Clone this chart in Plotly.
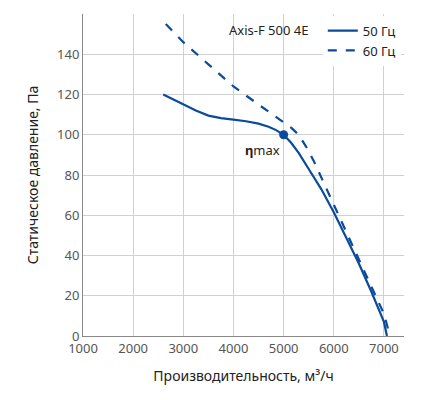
import plotly.graph_objects as go

x50 = [2600, 3000, 3250, 3500, 3750, 4000, 4250, 4500, 4700, 4850, 5000, 5150, 5300, 5500, 5750, 6000, 6250, 6500, 6750, 7000, 7060]
y50 = [120, 115, 112, 109.5, 108.3, 107.5, 106.7, 105.5, 104, 102.3, 100, 96, 91, 83, 73, 61.5, 49, 36, 22, 7, 0]
x60 = [2650, 3000, 3500, 4000, 4500, 4800, 5000, 5150, 5300, 5450, 5600, 5800, 6000, 6250, 6500, 6750, 7000, 7120]
y60 = [155, 146, 135, 124, 115, 109.5, 106, 103.5, 100, 94, 87, 76, 65, 51.5, 38, 24.5, 11, 0]
xt = [1000, 2000, 3000, 4000, 5000, 6000, 7000]
yt = [0, 20, 40, 60, 80, 100, 120, 140, 160]
C = "#0a4b9b"

fig = go.Figure()
fig.add_trace(go.Scatter(x=x50, y=y50, mode="lines", line=dict(color=C, width=2.2), name="50 Гц"))
fig.add_trace(go.Scatter(x=x60, y=y60, mode="lines", line=dict(color=C, width=2.2, dash="dash"), name="60 Гц"))
fig.add_trace(go.Scatter(x=[5000], y=[100], mode="markers", marker=dict(color=C, size=9), showlegend=False))
fig.add_annotation(x=5000, y=100, text="<b>η</b>max", showarrow=False, xanchor="right", yanchor="top", xshift=-2, yshift=-4,
                   font=dict(size=13, color="#222"))
fig.add_annotation(x=0.45, y=0.985, xref="paper", yref="paper", text="Axis-F 500 4E", showarrow=False,
                   xanchor="left", yanchor="top", font=dict(size=13, color="#222"))
fig.update_layout(
    width=441, height=400, margin=dict(l=75, r=45, t=6, b=72),
    plot_bgcolor="white", paper_bgcolor="white",
    font=dict(family="Noto Sans, Open Sans, sans-serif", size=13, color="#555"),
    legend=dict(x=0.99, y=0.995, xanchor="right", yanchor="top", bgcolor="white",
                font=dict(size=13, color="#222"), tracegroupgap=0, itemwidth=30),
    xaxis=dict(range=[1000, 7400], tickvals=xt, showgrid=True, gridcolor="#d0d0d0", zeroline=False,
               showline=True, linecolor="#888", ticks="",
               title=dict(text="Производительность, м³/ч", font=dict(size=14, color="#222"))),
    yaxis=dict(range=[0, 160], tickvals=yt, showgrid=True, gridcolor="#d0d0d0", zeroline=False,
               showline=True, linecolor="#888", ticks="",
               title=dict(text="Статическое давление, Па", font=dict(size=14, color="#222"))),
)
fig.write_html("out.html")
